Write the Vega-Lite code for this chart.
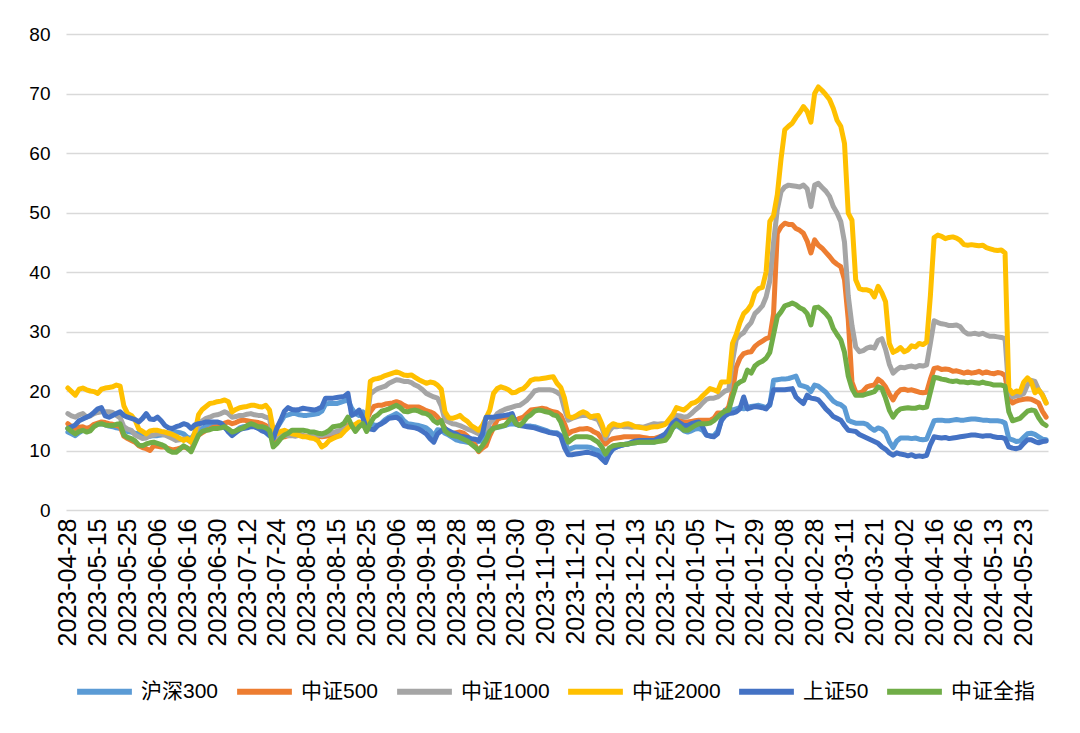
{
"$schema": "https://vega.github.io/schema/vega-lite/v6.json",
"width": 982, "height": 476,
"autosize": {"type": "none"},
"padding": {"left": 66, "top": 34, "right": 32, "bottom": 223},
"background": "white",
"config": {"view": {"stroke": null}, "font": "Liberation Sans"},
"data": {"values": [
{"d":"2023-04-28","沪深300":13.1,"中证500":14.5,"中证1000":16.2,"中证2000":20.5,"上证50":13.7,"中证全指":13.7},
{"d":"2023-05-04","沪深300":12.8,"中证500":14.0,"中证1000":15.8,"中证2000":19.9,"上证50":14.0,"中证全指":13.2},
{"d":"2023-05-05","沪深300":12.5,"中证500":13.7,"中证1000":15.6,"中证2000":19.3,"上证50":14.3,"中证全指":12.8},
{"d":"2023-05-08","沪深300":13.0,"中证500":13.9,"中证1000":16.0,"中证2000":20.3,"上证50":15.0,"中证全指":13.2},
{"d":"2023-05-09","沪深300":13.4,"中证500":14.0,"中证1000":16.2,"中证2000":20.5,"上证50":15.3,"中证全指":13.4},
{"d":"2023-05-10","沪深300":13.6,"中证500":13.7,"中证1000":15.6,"中证2000":20.2,"上证50":15.6,"中证全指":13.1},
{"d":"2023-05-11","沪深300":13.9,"中证500":13.9,"中证1000":15.8,"中证2000":20.0,"上证50":15.9,"中证全指":13.3},
{"d":"2023-05-12","沪深300":14.2,"中证500":14.4,"中证1000":16.2,"中证2000":19.9,"上证50":16.4,"中证全指":14.0},
{"d":"2023-05-15","沪深300":14.4,"中证500":14.6,"中证1000":16.4,"中证2000":19.6,"上证50":17.0,"中证全指":14.4},
{"d":"2023-05-16","沪深300":14.5,"中证500":14.8,"中证1000":16.5,"中证2000":20.3,"上证50":17.2,"中证全指":14.5},
{"d":"2023-05-17","沪深300":14.3,"中证500":14.7,"中证1000":16.5,"中证2000":20.5,"上证50":15.8,"中证全指":14.3},
{"d":"2023-05-18","沪深300":14.1,"中证500":14.5,"中证1000":16.5,"中证2000":20.6,"上证50":15.6,"中证全指":14.2},
{"d":"2023-05-19","沪深300":14.0,"中证500":14.4,"中证1000":16.4,"中证2000":20.7,"上证50":15.9,"中证全指":14.2},
{"d":"2023-05-22","沪深300":13.8,"中证500":14.2,"中证1000":15.9,"中证2000":21.0,"上证50":16.2,"中证全指":14.4},
{"d":"2023-05-23","沪深300":13.7,"中证500":14.0,"中证1000":15.5,"中证2000":20.8,"上证50":16.5,"中证全指":14.5},
{"d":"2023-05-24","沪深300":13.5,"中证500":12.4,"中证1000":14.0,"中证2000":17.5,"上证50":15.9,"中证全指":12.6},
{"d":"2023-05-25","沪深300":13.2,"中证500":12.0,"中证1000":13.6,"中证2000":16.2,"上证50":15.6,"中证全指":12.2},
{"d":"2023-05-26","沪深300":13.1,"中证500":11.7,"中证1000":13.4,"中证2000":15.9,"上证50":15.4,"中证全指":12.0},
{"d":"2023-05-29","沪深300":12.9,"中证500":11.4,"中证1000":12.6,"中证2000":15.1,"上证50":15.2,"中证全指":11.6},
{"d":"2023-05-30","沪深300":12.8,"中证500":10.8,"中证1000":12.3,"中证2000":13.6,"上证50":14.8,"中证全指":10.9},
{"d":"2023-05-31","沪深300":12.5,"中证500":10.5,"中证1000":12.0,"中证2000":13.2,"上证50":15.4,"中证全指":10.8},
{"d":"2023-06-01","沪深300":12.3,"中证500":10.3,"中证1000":12.1,"中证2000":12.8,"上证50":16.2,"中证全指":11.1},
{"d":"2023-06-02","沪深300":12.4,"中证500":10.0,"中证1000":12.5,"中证2000":13.3,"上证50":15.3,"中证全指":11.3},
{"d":"2023-06-05","沪深300":12.5,"中证500":10.8,"中证1000":12.6,"中证2000":13.4,"上证50":15.2,"中证全指":11.4},
{"d":"2023-06-06","沪深300":12.5,"中证500":10.7,"中证1000":12.8,"中证2000":13.4,"上证50":15.6,"中证全指":11.2},
{"d":"2023-06-07","沪深300":12.6,"中证500":10.6,"中证1000":12.8,"中证2000":13.2,"上证50":15.0,"中证全指":11.0},
{"d":"2023-06-08","沪深300":12.7,"中证500":10.6,"中证1000":12.6,"中证2000":13.1,"上证50":14.2,"中证全指":10.7},
{"d":"2023-06-09","沪深300":12.9,"中证500":10.3,"中证1000":12.3,"中证2000":12.9,"上证50":13.8,"中证全指":10.0},
{"d":"2023-06-12","沪深300":13.0,"中证500":10.1,"中证1000":12.0,"中证2000":12.7,"上证50":13.7,"中证全指":9.7},
{"d":"2023-06-13","沪深300":13.1,"中证500":10.2,"中证1000":11.7,"中证2000":12.4,"上证50":14.0,"中证全指":9.7},
{"d":"2023-06-14","沪深300":13.0,"中证500":10.4,"中证1000":11.8,"中证2000":12.0,"上证50":14.2,"中证全指":10.2},
{"d":"2023-06-15","沪深300":12.8,"中证500":10.6,"中证1000":12.0,"中证2000":11.7,"上证50":14.5,"中证全指":10.8},
{"d":"2023-06-16","沪深300":12.2,"中证500":10.4,"中证1000":11.8,"中证2000":12.0,"上证50":14.3,"中证全指":10.4},
{"d":"2023-06-19","沪深300":12.0,"中证500":10.0,"中证1000":11.4,"中证2000":11.4,"上证50":13.7,"中证全指":9.8},
{"d":"2023-06-20","沪深300":12.8,"中证500":11.5,"中证1000":13.0,"中证2000":13.0,"上证50":14.3,"中证全指":11.2},
{"d":"2023-06-21","沪深300":13.4,"中证500":12.6,"中证1000":14.2,"中证2000":16.0,"上证50":14.5,"中证全指":12.6},
{"d":"2023-06-26","沪深300":13.7,"中证500":13.0,"中证1000":15.0,"中证2000":16.9,"上证50":14.6,"中证全指":13.2},
{"d":"2023-06-27","沪深300":14.1,"中证500":13.4,"中证1000":15.4,"中证2000":17.4,"上证50":14.8,"中证全指":13.4},
{"d":"2023-06-28","沪深300":14.3,"中证500":13.6,"中证1000":15.6,"中证2000":17.9,"上证50":14.8,"中证全指":13.5},
{"d":"2023-06-29","沪深300":14.4,"中证500":13.9,"中证1000":15.9,"中证2000":18.0,"上证50":14.8,"中证全指":13.7},
{"d":"2023-06-30","沪深300":14.5,"中证500":14.0,"中证1000":16.0,"中证2000":18.2,"上证50":14.8,"中证全指":13.7},
{"d":"2023-07-03","沪深300":14.3,"中证500":14.2,"中证1000":16.2,"中证2000":18.3,"上证50":14.6,"中证全指":13.8},
{"d":"2023-07-04","沪深300":13.8,"中证500":14.6,"中证1000":16.5,"中证2000":18.5,"上证50":14.0,"中证全指":14.0},
{"d":"2023-07-05","沪深300":13.4,"中证500":14.8,"中证1000":16.2,"中证2000":18.2,"上证50":13.1,"中证全指":13.6},
{"d":"2023-07-06","沪深300":12.8,"中证500":14.5,"中证1000":15.6,"中证2000":16.5,"上证50":12.5,"中证全指":13.1},
{"d":"2023-07-07","沪深300":13.3,"中证500":14.7,"中证1000":15.7,"中证2000":16.9,"上证50":13.0,"中证全指":13.3},
{"d":"2023-07-10","沪深300":13.8,"中证500":15.0,"中证1000":15.9,"中证2000":17.2,"上证50":13.5,"中证全指":13.6},
{"d":"2023-07-11","沪深300":14.0,"中证500":15.1,"中证1000":15.9,"中证2000":17.3,"上证50":13.7,"中证全指":13.8},
{"d":"2023-07-12","沪深300":14.1,"中证500":15.0,"中证1000":16.1,"中证2000":17.4,"上证50":13.8,"中证全指":14.2},
{"d":"2023-07-13","沪深300":14.2,"中证500":14.9,"中证1000":16.2,"中证2000":17.6,"上证50":14.0,"中证全指":14.5},
{"d":"2023-07-14","沪深300":14.0,"中证500":14.8,"中证1000":16.0,"中证2000":17.6,"上证50":14.0,"中证全指":14.3},
{"d":"2023-07-17","沪深300":13.8,"中证500":14.7,"中证1000":15.9,"中证2000":17.4,"上证50":13.7,"中证全指":14.0},
{"d":"2023-07-18","沪深300":13.5,"中证500":14.5,"中证1000":15.9,"中证2000":17.3,"上证50":13.3,"中证全指":14.0},
{"d":"2023-07-19","沪深300":13.0,"中证500":14.2,"中证1000":15.6,"中证2000":17.6,"上证50":13.1,"中证全指":13.8},
{"d":"2023-07-20","沪深300":12.5,"中证500":13.8,"中证1000":15.4,"中证2000":16.8,"上证50":12.5,"中证全指":13.4},
{"d":"2023-07-21","沪深300":12.4,"中证500":11.4,"中证1000":12.0,"中证2000":13.5,"上证50":12.0,"中证全指":10.6},
{"d":"2023-07-24","沪深300":13.8,"中证500":11.8,"中证1000":12.4,"中证2000":12.8,"上证50":13.8,"中证全指":11.2},
{"d":"2023-07-25","沪深300":14.8,"中证500":12.2,"中证1000":12.8,"中证2000":13.2,"上证50":15.1,"中证全指":12.0},
{"d":"2023-07-26","沪深300":15.8,"中证500":12.3,"中证1000":12.6,"中证2000":13.4,"上证50":16.6,"中证全指":12.6},
{"d":"2023-07-27","沪深300":16.0,"中证500":12.5,"中证1000":12.5,"中证2000":13.1,"上证50":17.2,"中证全指":12.9},
{"d":"2023-07-28","沪深300":16.2,"中证500":12.7,"中证1000":12.5,"中证2000":12.8,"上证50":16.9,"中证全指":13.4},
{"d":"2023-07-31","沪深300":16.2,"中证500":12.8,"中证1000":12.4,"中证2000":12.7,"上证50":16.8,"中证全指":13.4},
{"d":"2023-08-01","沪深300":16.0,"中证500":12.7,"中证1000":12.6,"中证2000":12.5,"上证50":16.9,"中证全指":13.4},
{"d":"2023-08-02","沪深300":15.9,"中证500":12.5,"中证1000":12.5,"中证2000":12.3,"上证50":17.1,"中证全指":13.4},
{"d":"2023-08-03","沪深300":15.9,"中证500":12.4,"中证1000":12.3,"中证2000":12.3,"上证50":17.0,"中证全指":13.3},
{"d":"2023-08-04","沪深300":16.0,"中证500":12.3,"中证1000":12.4,"中证2000":12.1,"上证50":16.9,"中证全指":13.1},
{"d":"2023-08-07","沪深300":16.1,"中证500":12.3,"中证1000":12.5,"中证2000":12.0,"上证50":16.8,"中证全指":13.1},
{"d":"2023-08-08","沪深300":16.2,"中证500":12.4,"中证1000":12.6,"中证2000":11.6,"上证50":17.0,"中证全指":12.9},
{"d":"2023-08-09","沪深300":16.6,"中证500":12.3,"中证1000":12.5,"中证2000":10.6,"上证50":17.3,"中证全指":12.8},
{"d":"2023-08-10","沪深300":17.8,"中证500":12.4,"中证1000":12.7,"中证2000":11.0,"上证50":18.8,"中证全指":13.0},
{"d":"2023-08-11","沪深300":17.9,"中证500":12.5,"中证1000":12.8,"中证2000":11.7,"上证50":18.8,"中证全指":13.4},
{"d":"2023-08-14","沪深300":17.9,"中证500":12.7,"中证1000":13.0,"中证2000":12.0,"上证50":18.8,"中证全指":14.0},
{"d":"2023-08-15","沪深300":17.9,"中证500":12.8,"中证1000":13.2,"中证2000":12.3,"上证50":18.9,"中证全指":14.1},
{"d":"2023-08-16","沪深300":18.1,"中证500":13.2,"中证1000":13.4,"中证2000":12.5,"上证50":19.0,"中证全指":14.2},
{"d":"2023-08-17","沪深300":18.3,"中证500":14.0,"中证1000":13.7,"中证2000":13.2,"上证50":19.1,"中证全指":14.6},
{"d":"2023-08-18","沪深300":18.5,"中证500":14.2,"中证1000":14.0,"中证2000":13.8,"上证50":19.6,"中证全指":15.6},
{"d":"2023-08-21","沪深300":17.1,"中证500":14.1,"中证1000":14.1,"中证2000":14.2,"上证50":15.9,"中证全指":14.2},
{"d":"2023-08-22","沪深300":16.2,"中证500":14.0,"中证1000":14.2,"中证2000":14.4,"上证50":16.2,"中证全指":13.2},
{"d":"2023-08-23","沪深300":15.9,"中证500":14.3,"中证1000":14.2,"中证2000":14.8,"上证50":16.8,"中证全指":14.0},
{"d":"2023-08-24","沪深300":16.5,"中证500":14.8,"中证1000":14.5,"中证2000":14.6,"上证50":15.5,"中证全指":14.5},
{"d":"2023-08-25","沪深300":15.5,"中证500":15.1,"中证1000":14.8,"中证2000":14.5,"上证50":13.7,"中证全指":13.2},
{"d":"2023-08-28","沪深300":14.5,"中证500":16.5,"中证1000":19.5,"中证2000":21.6,"上证50":13.6,"中证全指":14.6},
{"d":"2023-08-29","沪深300":14.3,"中证500":17.4,"中证1000":20.0,"中证2000":22.0,"上证50":13.5,"中证全指":15.6},
{"d":"2023-08-30","沪深300":14.2,"中证500":17.6,"中证1000":20.4,"中证2000":22.1,"上证50":14.2,"中证全指":16.0},
{"d":"2023-08-31","沪深300":14.6,"中证500":17.6,"中证1000":20.6,"中证2000":22.3,"上证50":14.5,"中证全指":16.6},
{"d":"2023-09-01","沪深300":15.2,"中证500":17.8,"中证1000":20.8,"中证2000":22.6,"上证50":14.9,"中证全指":16.8},
{"d":"2023-09-04","沪深300":15.6,"中证500":17.9,"中证1000":21.3,"中证2000":22.8,"上证50":15.4,"中证全指":17.0},
{"d":"2023-09-05","沪深300":15.9,"中证500":18.0,"中证1000":21.6,"中证2000":23.0,"上证50":15.5,"中证全指":17.3},
{"d":"2023-09-06","沪深300":16.2,"中证500":18.2,"中证1000":21.9,"中证2000":23.2,"上证50":15.6,"中证全指":17.6},
{"d":"2023-09-07","沪深300":15.8,"中证500":18.0,"中证1000":21.8,"中证2000":23.0,"上证50":15.2,"中证全指":17.2},
{"d":"2023-09-08","沪深300":15.0,"中证500":17.6,"中证1000":21.6,"中证2000":22.7,"上证50":14.2,"中证全指":16.6},
{"d":"2023-09-11","沪深300":14.5,"中证500":17.3,"中证1000":21.6,"中证2000":22.6,"上证50":14.0,"中证全指":16.5},
{"d":"2023-09-12","沪深300":14.4,"中证500":17.3,"中证1000":21.4,"中证2000":22.7,"上证50":13.9,"中证全指":16.7},
{"d":"2023-09-13","沪深300":14.3,"中证500":17.3,"中证1000":21.0,"中证2000":22.3,"上证50":13.8,"中证全指":16.8},
{"d":"2023-09-14","沪深300":14.2,"中证500":17.3,"中证1000":20.7,"中证2000":21.9,"上证50":13.6,"中证全指":16.6},
{"d":"2023-09-15","沪深300":14.0,"中证500":17.0,"中证1000":20.2,"中证2000":21.6,"上证50":13.2,"中证全指":16.3},
{"d":"2023-09-18","沪深300":13.8,"中证500":16.7,"中证1000":19.6,"中证2000":21.3,"上证50":12.8,"中证全指":16.2},
{"d":"2023-09-19","沪深300":13.3,"中证500":16.5,"中证1000":19.3,"中证2000":21.5,"上证50":12.0,"中证全指":15.8},
{"d":"2023-09-20","沪深300":12.4,"中证500":16.2,"中证1000":19.0,"中证2000":21.4,"上证50":11.4,"中证全指":15.0},
{"d":"2023-09-21","沪深300":13.5,"中证500":15.6,"中证1000":18.8,"中证2000":21.0,"上证50":12.8,"中证全指":14.6},
{"d":"2023-09-22","沪深300":13.4,"中证500":14.8,"中证1000":17.5,"中证2000":20.3,"上证50":13.3,"中证全指":15.0},
{"d":"2023-09-25","沪深300":12.9,"中证500":13.7,"中证1000":15.1,"中证2000":16.5,"上证50":13.7,"中证全指":13.3},
{"d":"2023-09-26","沪深300":12.6,"中证500":13.0,"中证1000":14.8,"中证2000":15.5,"上证50":13.3,"中证全指":12.8},
{"d":"2023-09-27","沪深300":12.2,"中证500":12.8,"中证1000":14.5,"中证2000":15.4,"上证50":13.0,"中证全指":12.5},
{"d":"2023-09-28","沪深300":11.8,"中证500":13.0,"中证1000":14.4,"中证2000":15.6,"上证50":12.8,"中证全指":12.4},
{"d":"2023-10-09","沪深300":11.6,"中证500":13.1,"中证1000":14.2,"中证2000":15.9,"上证50":12.4,"中证全指":12.2},
{"d":"2023-10-10","沪深300":11.5,"中证500":12.9,"中证1000":13.9,"中证2000":15.3,"上证50":12.3,"中证全指":11.9},
{"d":"2023-10-11","沪深300":11.4,"中证500":12.4,"中证1000":13.6,"中证2000":14.9,"上证50":12.2,"中证全指":11.6},
{"d":"2023-10-12","沪深300":11.4,"中证500":11.7,"中证1000":13.4,"中证2000":14.2,"上证50":12.0,"中证全指":11.1},
{"d":"2023-10-13","沪深300":11.4,"中证500":11.0,"中证1000":13.1,"中证2000":13.8,"上证50":11.9,"中证全指":10.6},
{"d":"2023-10-16","沪深300":11.5,"中证500":9.8,"中证1000":12.8,"中证2000":13.4,"上证50":11.7,"中证全指":10.0},
{"d":"2023-10-17","沪深300":11.7,"中证500":10.4,"中证1000":13.2,"中证2000":14.2,"上证50":12.7,"中证全指":10.8},
{"d":"2023-10-18","沪深300":12.8,"中证500":10.8,"中证1000":13.7,"中证2000":15.5,"上证50":15.6,"中证全指":11.7},
{"d":"2023-10-19","沪深300":13.7,"中证500":12.5,"中证1000":14.6,"中证2000":16.8,"上证50":15.6,"中证全指":13.2},
{"d":"2023-10-20","沪深300":13.8,"中证500":13.8,"中证1000":15.3,"中证2000":19.6,"上证50":15.6,"中证全指":13.7},
{"d":"2023-10-23","沪深300":13.9,"中证500":15.2,"中证1000":16.2,"中证2000":20.4,"上证50":15.7,"中证全指":13.9},
{"d":"2023-10-24","沪深300":14.0,"中证500":15.5,"中证1000":16.6,"中证2000":20.7,"上证50":15.8,"中证全指":14.1},
{"d":"2023-10-25","沪深300":14.2,"中证500":15.6,"中证1000":16.9,"中证2000":20.5,"上证50":15.9,"中证全指":14.2},
{"d":"2023-10-26","沪深300":14.4,"中证500":15.6,"中证1000":17.1,"中证2000":20.2,"上证50":16.0,"中证全指":14.9},
{"d":"2023-10-27","沪深300":14.5,"中证500":15.4,"中证1000":17.3,"中证2000":19.7,"上证50":16.2,"中证全指":15.6},
{"d":"2023-10-30","沪深300":14.4,"中证500":15.1,"中证1000":17.5,"中证2000":19.8,"上证50":14.5,"中证全指":14.5},
{"d":"2023-10-31","沪深300":14.2,"中证500":15.4,"中证1000":17.6,"中证2000":20.2,"上证50":14.2,"中证全指":14.2},
{"d":"2023-11-01","沪深300":14.2,"中证500":15.6,"中证1000":18.0,"中证2000":20.4,"上证50":14.1,"中证全指":14.8},
{"d":"2023-11-02","沪深300":14.1,"中证500":16.2,"中证1000":18.5,"中证2000":21.0,"上证50":14.0,"中证全指":15.6},
{"d":"2023-11-03","沪深300":14.1,"中证500":16.8,"中证1000":19.2,"中证2000":21.8,"上证50":13.9,"中证全指":16.0},
{"d":"2023-11-06","沪深300":14.0,"中证500":16.9,"中证1000":20.0,"中证2000":22.0,"上证50":13.8,"中证全指":16.6},
{"d":"2023-11-07","沪深300":13.8,"中证500":17.0,"中证1000":20.2,"中证2000":22.0,"上证50":13.6,"中证全指":16.8},
{"d":"2023-11-08","沪深300":13.6,"中证500":17.1,"中证1000":20.2,"中证2000":22.1,"上证50":13.4,"中证全指":16.7},
{"d":"2023-11-09","沪深300":13.4,"中证500":17.0,"中证1000":20.2,"中证2000":22.2,"上证50":13.2,"中证全指":16.5},
{"d":"2023-11-10","沪深300":13.1,"中证500":16.7,"中证1000":20.2,"中证2000":22.3,"上证50":13.0,"中证全指":16.4},
{"d":"2023-11-13","沪深300":13.0,"中证500":16.5,"中证1000":20.1,"中证2000":22.4,"上证50":12.9,"中证全指":16.0},
{"d":"2023-11-14","沪深300":13.0,"中证500":16.4,"中证1000":19.8,"中证2000":21.3,"上证50":12.8,"中证全指":15.8},
{"d":"2023-11-15","沪深300":12.5,"中证500":15.9,"中证1000":19.3,"中证2000":20.6,"上证50":12.4,"中证全指":14.8},
{"d":"2023-11-16","沪深300":11.5,"中证500":14.5,"中证1000":17.0,"中证2000":18.8,"上证50":10.5,"中证全指":13.0},
{"d":"2023-11-17","沪深300":10.1,"中证500":12.8,"中证1000":15.1,"中证2000":15.8,"上证50":9.3,"中证全指":11.4},
{"d":"2023-11-20","沪深300":10.4,"中证500":13.2,"中证1000":15.4,"中证2000":15.5,"上证50":9.3,"中证全指":11.9},
{"d":"2023-11-21","沪深300":10.6,"中证500":13.4,"中证1000":15.6,"中证2000":15.8,"上证50":9.4,"中证全指":12.3},
{"d":"2023-11-22","沪深300":10.6,"中证500":13.6,"中证1000":15.8,"中证2000":16.2,"上证50":9.5,"中证全指":12.3},
{"d":"2023-11-23","沪深300":10.6,"中证500":13.6,"中证1000":15.9,"中证2000":16.5,"上证50":9.6,"中证全指":12.3},
{"d":"2023-11-24","沪深300":10.6,"中证500":13.7,"中证1000":15.9,"中证2000":16.2,"上证50":9.7,"中证全指":12.3},
{"d":"2023-11-27","沪深300":10.5,"中证500":13.5,"中证1000":15.6,"中证2000":15.6,"上证50":9.6,"中证全指":12.2},
{"d":"2023-11-28","沪深300":10.2,"中证500":13.1,"中证1000":15.4,"中证2000":15.8,"上证50":9.4,"中证全指":11.8},
{"d":"2023-11-29","沪深300":10.0,"中证500":12.8,"中证1000":15.2,"中证2000":15.9,"上证50":9.2,"中证全指":11.4},
{"d":"2023-11-30","沪深300":9.4,"中证500":12.0,"中证1000":13.9,"中证2000":14.5,"上证50":8.6,"中证全指":10.6},
{"d":"2023-12-01","沪深300":8.6,"中证500":11.1,"中证1000":12.0,"中证2000":12.6,"上证50":8.0,"中证全指":9.4},
{"d":"2023-12-04","沪深300":9.6,"中证500":11.7,"中证1000":13.3,"中证2000":14.0,"上证50":9.4,"中证全指":10.4},
{"d":"2023-12-05","沪深300":10.3,"中证500":12.0,"中证1000":14.0,"中证2000":14.5,"上证50":10.3,"中证全指":10.8},
{"d":"2023-12-06","沪深300":10.6,"中证500":12.1,"中证1000":14.0,"中证2000":14.3,"上证50":10.6,"中证全指":10.9},
{"d":"2023-12-07","沪深300":10.8,"中证500":12.2,"中证1000":14.1,"中证2000":14.2,"上证50":10.8,"中证全指":11.0},
{"d":"2023-12-08","沪深300":11.0,"中证500":12.3,"中证1000":14.0,"中证2000":14.4,"上证50":11.0,"中证全指":11.0},
{"d":"2023-12-11","沪深300":11.1,"中证500":12.3,"中证1000":14.0,"中证2000":14.5,"上证50":11.1,"中证全指":11.1},
{"d":"2023-12-12","沪深300":11.2,"中证500":12.3,"中证1000":13.9,"中证2000":14.3,"上证50":11.4,"中证全指":11.2},
{"d":"2023-12-13","沪深300":11.3,"中证500":12.3,"中证1000":14.0,"中证2000":14.0,"上证50":11.6,"中证全指":11.3},
{"d":"2023-12-14","沪深300":11.4,"中证500":12.3,"中证1000":14.0,"中证2000":13.9,"上证50":11.7,"中证全指":11.4},
{"d":"2023-12-15","沪深300":11.4,"中证500":12.2,"中证1000":13.9,"中证2000":13.8,"上证50":11.7,"中证全指":11.4},
{"d":"2023-12-18","沪深300":11.4,"中证500":12.1,"中证1000":14.1,"中证2000":13.7,"上证50":11.7,"中证全指":11.4},
{"d":"2023-12-19","沪深300":11.4,"中证500":12.0,"中证1000":14.3,"中证2000":13.9,"上证50":11.7,"中证全指":11.4},
{"d":"2023-12-20","沪深300":11.4,"中证500":12.0,"中证1000":14.5,"中证2000":14.0,"上证50":11.7,"中证全指":11.4},
{"d":"2023-12-21","沪深300":11.6,"中证500":12.2,"中证1000":14.4,"中证2000":14.0,"上证50":12.0,"中证全指":11.5},
{"d":"2023-12-22","沪深300":11.8,"中证500":12.4,"中证1000":14.5,"中证2000":14.2,"上证50":12.4,"中证全指":11.6},
{"d":"2023-12-25","沪深300":12.0,"中证500":12.5,"中证1000":14.5,"中证2000":14.4,"上证50":12.8,"中证全指":11.7},
{"d":"2023-12-26","沪深300":12.8,"中证500":13.3,"中证1000":14.8,"中证2000":15.2,"上证50":13.6,"中证全指":12.5},
{"d":"2023-12-27","沪深300":13.8,"中证500":14.5,"中证1000":15.2,"中证2000":16.0,"上证50":14.6,"中证全指":13.8},
{"d":"2023-12-28","沪深300":14.2,"中证500":15.1,"中证1000":15.9,"中证2000":17.2,"上证50":15.1,"中证全指":14.5},
{"d":"2023-12-29","沪深300":13.8,"中证500":15.0,"中证1000":15.8,"中证2000":17.0,"上证50":14.6,"中证全指":14.0},
{"d":"2024-01-02","沪深300":13.3,"中证500":14.8,"中证1000":15.6,"中证2000":16.8,"上证50":14.2,"中证全指":13.4},
{"d":"2024-01-03","沪深300":13.1,"中证500":14.8,"中证1000":15.7,"中证2000":17.3,"上证50":14.2,"中证全指":13.4},
{"d":"2024-01-04","沪深300":13.3,"中证500":14.9,"中证1000":16.2,"中证2000":17.9,"上证50":14.5,"中证全指":13.8},
{"d":"2024-01-05","沪深300":13.6,"中证500":15.0,"中证1000":16.8,"中证2000":18.1,"上证50":14.7,"中证全指":14.2},
{"d":"2024-01-08","沪深300":13.7,"中证500":15.1,"中证1000":17.3,"中证2000":18.5,"上证50":14.8,"中证全指":14.5},
{"d":"2024-01-09","沪深300":13.4,"中证500":15.1,"中证1000":18.0,"中证2000":19.2,"上证50":14.0,"中证全指":14.5},
{"d":"2024-01-10","沪深300":12.6,"中证500":15.1,"中证1000":18.6,"中证2000":19.8,"上证50":12.6,"中证全指":14.5},
{"d":"2024-01-11","沪深300":12.5,"中证500":15.1,"中证1000":18.8,"中证2000":20.4,"上证50":12.4,"中证全指":14.6},
{"d":"2024-01-12","沪深300":12.5,"中证500":15.4,"中证1000":18.8,"中证2000":20.2,"上证50":12.3,"中证全指":15.0},
{"d":"2024-01-15","沪深300":13.2,"中证500":16.3,"中证1000":19.0,"中证2000":19.9,"上证50":12.8,"中证全指":15.6},
{"d":"2024-01-16","沪深300":15.0,"中证500":16.3,"中证1000":19.5,"中证2000":21.5,"上证50":15.0,"中证全指":16.2},
{"d":"2024-01-17","沪深300":16.8,"中证500":16.4,"中证1000":20.0,"中证2000":21.5,"上证50":15.8,"中证全指":16.6},
{"d":"2024-01-18","沪深300":17.0,"中证500":17.4,"中证1000":20.2,"中证2000":21.6,"上证50":16.2,"中证全指":16.8},
{"d":"2024-01-19","沪深300":16.8,"中证500":20.0,"中证1000":25.0,"中证2000":28.0,"上证50":16.3,"中证全指":19.0},
{"d":"2024-01-22","沪深300":17.0,"中证500":24.0,"中证1000":28.6,"中证2000":29.5,"上证50":16.5,"中证全指":21.0},
{"d":"2024-01-23","沪深300":17.2,"中证500":25.5,"中证1000":29.4,"中证2000":31.5,"上证50":17.0,"中证全指":21.5},
{"d":"2024-01-24","沪深300":17.0,"中证500":26.3,"中证1000":29.8,"中证2000":33.0,"上证50":19.0,"中证全指":21.8},
{"d":"2024-01-25","沪深300":17.2,"中证500":26.5,"中证1000":30.8,"中证2000":33.6,"上证50":17.0,"中证全指":23.5},
{"d":"2024-01-26","沪深300":17.4,"中证500":26.6,"中证1000":31.5,"中证2000":34.5,"上证50":17.2,"中证全指":23.0},
{"d":"2024-01-29","沪深300":17.5,"中证500":27.5,"中证1000":33.0,"中证2000":36.5,"上证50":17.4,"中证全指":24.2},
{"d":"2024-01-30","沪深300":17.6,"中证500":28.0,"中证1000":33.6,"中证2000":37.2,"上证50":17.3,"中证全指":24.7},
{"d":"2024-01-31","沪深300":17.4,"中证500":28.4,"中证1000":34.3,"中证2000":37.4,"上证50":17.2,"中证全指":25.0},
{"d":"2024-02-01","沪深300":17.2,"中证500":28.8,"中证1000":35.8,"中证2000":40.0,"上证50":17.0,"中证全指":25.5},
{"d":"2024-02-02","沪深300":17.6,"中证500":29.0,"中证1000":38.5,"中证2000":48.5,"上证50":17.8,"中证全指":26.5},
{"d":"2024-02-05","沪深300":21.8,"中证500":33.0,"中证1000":45.0,"中证2000":49.5,"上证50":20.2,"中证全指":29.5},
{"d":"2024-02-06","沪深300":21.9,"中证500":46.5,"中证1000":50.5,"中证2000":53.0,"上证50":20.2,"中证全指":32.5},
{"d":"2024-02-07","沪深300":22.0,"中证500":47.6,"中证1000":53.5,"中证2000":59.0,"上证50":20.2,"中证全指":33.3},
{"d":"2024-02-08","沪深300":22.0,"中证500":48.2,"中证1000":54.3,"中证2000":63.9,"上证50":20.2,"中证全指":34.3},
{"d":"2024-02-19","沪深300":22.1,"中证500":48.0,"中证1000":54.6,"中证2000":64.5,"上证50":20.3,"中证全指":34.5},
{"d":"2024-02-20","沪深300":22.3,"中证500":48.0,"中证1000":54.5,"中证2000":65.0,"上证50":20.4,"中证全指":34.8},
{"d":"2024-02-21","沪深300":22.5,"中证500":47.3,"中证1000":54.4,"中证2000":66.0,"上证50":19.0,"中证全指":34.5},
{"d":"2024-02-22","沪深300":21.0,"中证500":47.0,"中证1000":54.3,"中证2000":66.8,"上证50":18.4,"中证全指":34.0},
{"d":"2024-02-23","沪深300":20.8,"中证500":46.5,"中证1000":54.6,"中证2000":67.8,"上证50":17.9,"中证全指":33.7},
{"d":"2024-02-26","沪深300":20.6,"中证500":45.2,"中证1000":54.0,"中证2000":67.0,"上证50":19.3,"中证全指":33.0},
{"d":"2024-02-27","沪深300":19.9,"中证500":43.2,"中证1000":51.0,"中证2000":65.2,"上证50":18.8,"中证全指":31.1},
{"d":"2024-02-28","沪深300":21.0,"中证500":45.4,"中证1000":54.6,"中证2000":70.0,"上证50":18.7,"中证全指":34.0},
{"d":"2024-02-29","沪深300":20.8,"中证500":44.5,"中证1000":54.9,"中证2000":71.1,"上证50":18.5,"中证全指":34.1},
{"d":"2024-03-01","沪深300":20.3,"中证500":44.0,"中证1000":54.2,"中证2000":70.5,"上证50":17.8,"中证全指":33.6},
{"d":"2024-03-04","沪深300":19.8,"中证500":43.3,"中证1000":53.6,"中证2000":69.8,"上证50":17.0,"中证全指":33.0},
{"d":"2024-03-05","沪深300":19.0,"中证500":42.6,"中证1000":52.7,"中证2000":69.0,"上证50":16.4,"中证全指":32.2},
{"d":"2024-03-06","沪深300":18.3,"中证500":41.8,"中证1000":51.0,"中证2000":67.5,"上证50":15.7,"中证全指":30.5},
{"d":"2024-03-07","沪深300":17.9,"中证500":41.3,"中证1000":49.9,"中证2000":65.5,"上证50":15.4,"中证全指":29.5},
{"d":"2024-03-08","沪深300":17.7,"中证500":40.9,"中证1000":48.5,"中证2000":64.5,"上证50":15.1,"中证全指":28.6},
{"d":"2024-03-11","沪深300":17.2,"中证500":38.7,"中证1000":45.0,"中证2000":61.6,"上证50":14.2,"中证全指":26.5},
{"d":"2024-03-12","沪深300":15.1,"中证500":32.0,"中证1000":36.0,"中证2000":49.9,"上证50":13.4,"中证全指":22.5},
{"d":"2024-03-13","沪深300":14.8,"中证500":21.5,"中证1000":31.0,"中证2000":48.7,"上证50":13.3,"中证全指":20.4},
{"d":"2024-03-14","沪深300":14.6,"中证500":19.8,"中证1000":27.4,"中证2000":38.7,"上证50":13.2,"中证全指":19.3},
{"d":"2024-03-15","沪深300":14.6,"中证500":19.6,"中证1000":26.6,"中证2000":37.2,"上证50":12.7,"中证全指":19.3},
{"d":"2024-03-18","沪深300":14.6,"中证500":20.0,"中证1000":26.8,"中证2000":37.0,"上证50":12.4,"中证全指":19.3},
{"d":"2024-03-19","沪深300":14.4,"中证500":20.7,"中证1000":27.2,"中证2000":37.0,"上证50":12.1,"中证全指":19.5},
{"d":"2024-03-20","沪深300":13.8,"中证500":20.9,"中证1000":27.4,"中证2000":36.8,"上证50":11.8,"中证全指":19.7},
{"d":"2024-03-21","沪深300":13.4,"中证500":21.0,"中证1000":27.2,"中证2000":35.8,"上证50":11.5,"中证全指":19.9},
{"d":"2024-03-22","沪深300":13.8,"中证500":22.0,"中证1000":28.5,"中证2000":37.6,"上证50":11.2,"中证全指":20.7},
{"d":"2024-03-25","沪深300":13.6,"中证500":21.5,"中证1000":28.8,"中证2000":36.5,"上证50":10.6,"中证全指":20.4},
{"d":"2024-03-26","沪深300":13.0,"中证500":20.7,"中证1000":27.0,"中证2000":35.0,"上证50":10.2,"中证全指":18.8},
{"d":"2024-03-27","沪深300":11.5,"中证500":19.5,"中证1000":24.5,"中证2000":28.0,"上证50":9.6,"中证全指":16.8},
{"d":"2024-03-28","沪深300":10.5,"中证500":18.5,"中证1000":23.0,"中证2000":26.5,"上证50":9.2,"中证全指":15.6},
{"d":"2024-03-29","沪深300":11.6,"中证500":19.6,"中证1000":23.6,"中证2000":26.8,"上证50":9.6,"中证全指":16.5},
{"d":"2024-04-01","沪深300":12.1,"中证500":20.2,"中证1000":24.0,"中证2000":27.3,"上证50":9.4,"中证全指":17.0},
{"d":"2024-04-02","沪深300":12.1,"中证500":20.3,"中证1000":23.9,"中证2000":26.6,"上证50":9.3,"中证全指":17.1},
{"d":"2024-04-03","沪深300":12.1,"中证500":20.1,"中证1000":24.1,"中证2000":26.9,"上证50":9.1,"中证全指":17.2},
{"d":"2024-04-08","沪深300":12.0,"中证500":20.2,"中证1000":24.2,"中证2000":27.6,"上证50":9.3,"中证全指":17.1},
{"d":"2024-04-09","沪深300":12.1,"中证500":20.0,"中证1000":24.0,"中证2000":27.4,"上证50":9.0,"中证全指":17.1},
{"d":"2024-04-10","沪深300":11.9,"中证500":19.8,"中证1000":24.3,"中证2000":28.0,"上证50":9.1,"中证全指":17.3},
{"d":"2024-04-11","沪深300":11.8,"中证500":19.7,"中证1000":24.2,"中证2000":27.8,"上证50":9.0,"中证全指":17.2},
{"d":"2024-04-12","沪深300":11.9,"中证500":19.8,"中证1000":24.4,"中证2000":28.2,"上证50":9.2,"中证全指":17.3},
{"d":"2024-04-15","沪深300":13.5,"中证500":22.0,"中证1000":28.0,"中证2000":36.0,"上证50":11.0,"中证全指":19.8},
{"d":"2024-04-16","沪深300":15.0,"中证500":23.8,"中证1000":31.8,"中证2000":45.8,"上证50":12.3,"中证全指":22.3},
{"d":"2024-04-17","沪深300":15.1,"中证500":23.9,"中证1000":31.5,"中证2000":46.2,"上证50":12.2,"中证全指":22.2},
{"d":"2024-04-18","沪深300":15.1,"中证500":23.6,"中证1000":31.3,"中证2000":46.0,"上证50":12.1,"中证全指":22.0},
{"d":"2024-04-19","沪深300":15.0,"中证500":23.7,"中证1000":31.2,"中证2000":45.6,"上证50":12.2,"中证全指":21.9},
{"d":"2024-04-22","沪深300":15.0,"中证500":23.6,"中证1000":31.0,"中证2000":45.8,"上证50":12.0,"中证全指":21.7},
{"d":"2024-04-23","沪深300":15.1,"中证500":23.3,"中证1000":31.0,"中证2000":45.9,"上证50":12.1,"中证全指":21.6},
{"d":"2024-04-24","沪深300":15.2,"中证500":23.4,"中证1000":31.1,"中证2000":45.7,"上证50":12.2,"中证全指":21.7},
{"d":"2024-04-25","沪深300":15.1,"中证500":23.2,"中证1000":30.8,"中证2000":45.3,"上证50":12.3,"中证全指":21.5},
{"d":"2024-04-26","沪深300":15.1,"中证500":23.0,"中证1000":30.0,"中证2000":44.6,"上证50":12.4,"中证全指":21.5},
{"d":"2024-04-29","沪深300":15.2,"中证500":23.2,"中证1000":29.6,"中证2000":44.5,"上证50":12.5,"中证全指":21.4},
{"d":"2024-04-30","沪深300":15.3,"中证500":23.0,"中证1000":29.6,"中证2000":44.6,"上证50":12.6,"中证全指":21.5},
{"d":"2024-05-06","沪深300":15.3,"中证500":23.1,"中证1000":29.7,"中证2000":44.5,"上证50":12.6,"中证全指":21.4},
{"d":"2024-05-07","沪深300":15.2,"中证500":23.3,"中证1000":29.5,"中证2000":44.4,"上证50":12.5,"中证全指":21.3},
{"d":"2024-05-08","沪深300":15.1,"中证500":23.0,"中证1000":29.7,"中证2000":44.5,"上证50":12.4,"中证全指":21.5},
{"d":"2024-05-09","沪深300":15.1,"中证500":23.2,"中证1000":29.4,"中证2000":44.1,"上证50":12.5,"中证全指":21.3},
{"d":"2024-05-10","沪深300":15.0,"中证500":23.0,"中证1000":29.2,"中证2000":43.9,"上证50":12.5,"中证全指":21.2},
{"d":"2024-05-13","沪深300":15.0,"中证500":22.9,"中证1000":29.2,"中证2000":43.7,"上证50":12.3,"中证全指":21.0},
{"d":"2024-05-14","沪深300":15.0,"中证500":23.1,"中证1000":29.1,"中证2000":43.6,"上证50":12.2,"中证全指":21.0},
{"d":"2024-05-15","沪深300":14.9,"中证500":23.0,"中证1000":29.0,"中证2000":43.7,"上证50":12.2,"中证全指":21.0},
{"d":"2024-05-16","沪深300":14.6,"中证500":22.6,"中证1000":28.8,"中证2000":43.2,"上证50":12.0,"中证全指":20.8},
{"d":"2024-05-17","沪深300":12.0,"中证500":19.0,"中证1000":20.0,"中证2000":20.5,"上证50":10.6,"中证全指":16.5},
{"d":"2024-05-20","沪深300":11.8,"中证500":18.0,"中证1000":19.0,"中证2000":19.6,"上证50":10.4,"中证全指":15.0},
{"d":"2024-05-21","沪深300":11.5,"中证500":18.3,"中证1000":19.2,"中证2000":20.0,"上证50":10.3,"中证全指":15.2},
{"d":"2024-05-22","沪深300":11.6,"中证500":18.5,"中证1000":19.3,"中证2000":19.8,"上证50":10.5,"中证全指":15.4},
{"d":"2024-05-23","沪深300":12.2,"中证500":18.6,"中证1000":19.6,"中证2000":21.5,"上证50":11.2,"中证全指":16.0},
{"d":"2024-05-24","沪深300":12.8,"中证500":18.7,"中证1000":21.0,"中证2000":22.2,"上证50":11.8,"中证全指":16.6},
{"d":"2024-05-27","沪深300":12.9,"中证500":18.6,"中证1000":21.8,"中证2000":21.6,"上证50":11.8,"中证全指":16.8},
{"d":"2024-05-28","沪深300":12.7,"中证500":18.3,"中证1000":21.6,"中证2000":19.7,"上证50":11.5,"中证全指":16.7},
{"d":"2024-05-29","沪深300":12.3,"中证500":18.0,"中证1000":20.2,"中证2000":20.2,"上证50":11.3,"中证全指":15.5},
{"d":"2024-05-30","沪深300":11.9,"中证500":16.6,"中证1000":19.4,"中证2000":19.3,"上证50":11.5,"中证全指":14.6},
{"d":"2024-05-31","沪深300":11.8,"中证500":15.6,"中证1000":18.0,"中证2000":18.0,"上证50":11.6,"中证全指":14.2}
]},
"transform": [{"fold": ["沪深300","中证500","中证1000","中证2000","上证50","中证全指"], "as": ["指数","值"]}],
"mark": {"type": "line", "strokeWidth": 5, "strokeJoin": "round", "strokeCap": "round"},
"encoding": {
  "x": {"field": "d", "type": "ordinal", "sort": null,
    "scale": {"type": "point", "padding": 0.5},
    "axis": {"values": ["2023-04-28","2023-05-15","2023-05-25","2023-06-06","2023-06-16","2023-06-30","2023-07-12","2023-07-24","2023-08-03","2023-08-15","2023-08-25","2023-09-06","2023-09-18","2023-09-28","2023-10-18","2023-10-30","2023-11-09","2023-11-21","2023-12-01","2023-12-13","2023-12-25","2024-01-05","2024-01-17","2024-01-29","2024-02-08","2024-02-28","2024-03-11","2024-03-21","2024-04-02","2024-04-16","2024-04-26","2024-05-13","2024-05-23"],
      "title": null, "labelAngle": -90, "labelFontSize": 25, "labelColor": "#000000", "labelPadding": 8,
      "ticks": false, "domain": false, "grid": false, "labelFont": "Liberation Sans"}},
  "y": {"field": "值", "type": "quantitative", "scale": {"domain": [0, 80]},
    "axis": {"values": [0,10,20,30,40,50,60,70,80], "title": null, "domain": false, "ticks": false,
      "gridColor": "#D9D9D9", "gridWidth": 1.3, "labelFontSize": 19, "labelPadding": 16, "labelColor": "#000000", "labelFont": "Liberation Sans"}},
  "color": {"field": "指数", "type": "nominal", "sort": null,
    "scale": {"domain": ["沪深300","中证500","中证1000","中证2000","上证50","中证全指"],
      "range": ["#5B9BD5","#ED7D31","#A5A5A5","#FFC000","#4472C4","#70AD47"]},
    "legend": {"title": null, "orient": "none", "direction": "horizontal", "legendX": 8, "legendY": 627,
      "symbolType": "stroke", "symbolSize": 3000, "symbolStrokeWidth": 6,
      "labelFontSize": 21, "labelFont": "Liberation Sans, Noto Sans CJK SC", "labelColor": "#000000",
      "labelOffset": 6, "columnPadding": 6}}
}
}
